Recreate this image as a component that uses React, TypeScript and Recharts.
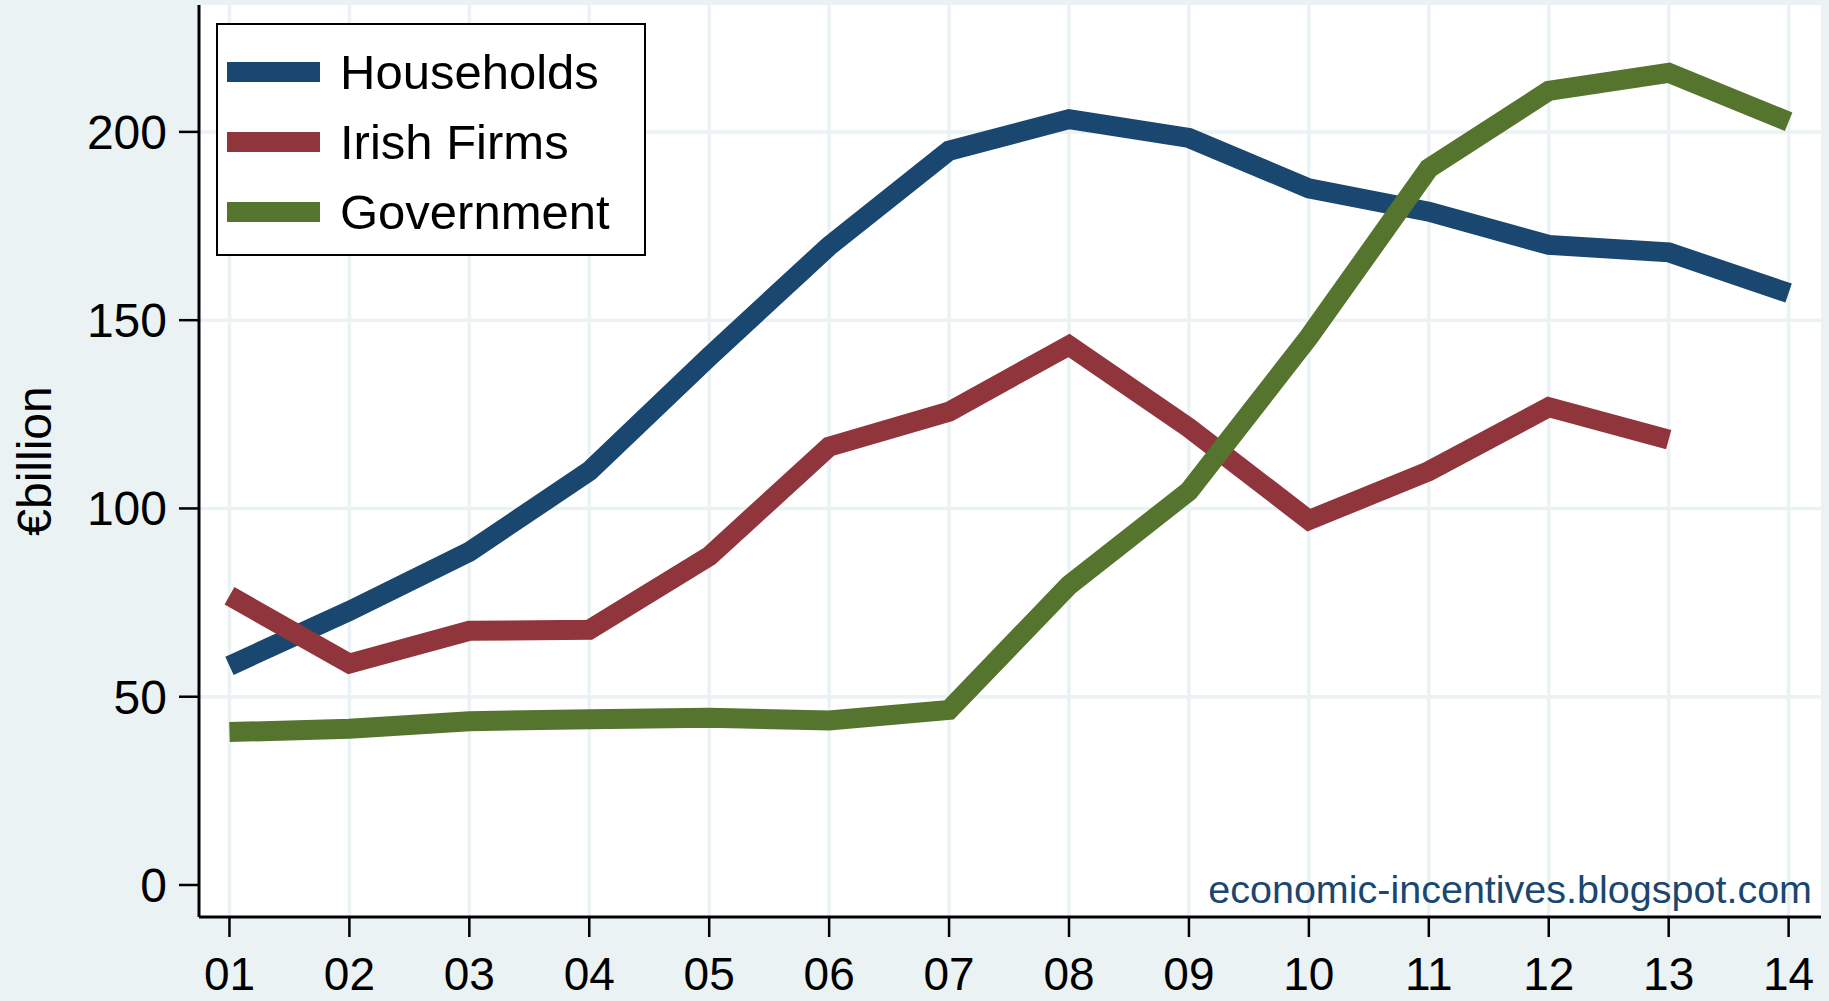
import { LineChart, Line, XAxis, YAxis, CartesianGrid, Legend } from 'recharts'

// years 2001-2014, € billion
const years = ['01', '02', '03', '04', '05', '06', '07', '08', '09', '10', '11', '12', '13', '14']
const households = [58.2, 72.8, 88.5, 109.9, 140.3, 169.7, 195.0, 203.4, 198.4, 185.0, 178.8, 170.0, 168.0, 157.2]
const irishFirms = [76.8, 58.8, 67.5, 67.8, 87.3, 116.4, 125.7, 143.3, 121.4, 96.9, 109.9, 126.9, 118.3, null]
const government = [40.6, 41.5, 43.5, 44.0, 44.4, 43.7, 46.5, 79.6, 104.6, 145.5, 190.3, 210.9, 215.7, 202.7]
const seriesNames = ['Households', 'Irish Firms', 'Government']
const yTicks = [0, 50, 100, 150, 200]

const data = years.map((year, i) => ({
  x: i + 1,
  year,
  households: households[i],
  irishFirms: irishFirms[i],
  government: government[i],
}))

const FONT = '"Liberation Sans", Arial, Helvetica, sans-serif'
const BG = '#eaf2f3'

function XTick({ x, y, payload }: any) {
  return (
    <text x={x} y={y + 53} textAnchor="middle" fontSize={46} fontFamily={FONT} fill="#000">
      {years[payload.value - 1]}
    </text>
  )
}

function YTick({ x, y, payload }: any) {
  return (
    <text x={x} y={y + 17} textAnchor="end" fontSize={48} fontFamily={FONT} fill="#000">
      {payload.value}
    </text>
  )
}

const yLabel = () => (
  <text
    x={51}
    y={461}
    transform="rotate(-90 51 461)"
    textAnchor="middle"
    fontSize={48}
    fontFamily={FONT}
    fill="#000"
  >
    €billion
  </text>
)

const watermark = () => (
  <text x={1812} y={903} textAnchor="end" fontSize={39.5} fontFamily={FONT} fill="#1a476f">
    economic-incentives.blogspot.com
  </text>
)

function LegendBox({ payload }: any) {
  // keep the series order, not the alphabetical one
  const items = seriesNames
    .map((name) => (payload || []).find((p: any) => p.value === name))
    .filter(Boolean)
  return (
    <div
      style={{
        width: 430,
        height: 233,
        boxSizing: 'border-box',
        border: '2.5px solid #000',
        background: '#fff',
        fontFamily: FONT,
        position: 'relative',
      }}
    >
      {items.map((item: any, i: number) => (
        <div
          key={item.value}
          style={{ position: 'absolute', left: 9, top: 12 + i * 70, height: 70, display: 'flex', alignItems: 'center' }}
        >
          <div style={{ width: 93, height: 20, background: item.color }} />
          <span style={{ marginLeft: 20, fontSize: 49, color: '#000', lineHeight: '70px' }}>{item.value}</span>
        </div>
      ))}
    </div>
  )
}

export default function App() {
  return (
    <div style={{ position: 'absolute', left: 0, top: 0, width: 1829, height: 1001, background: BG }}>
      <LineChart width={1829} height={1001} data={data} margin={{ top: 5, right: 8, bottom: 0, left: 0 }}>
        <CartesianGrid
          fill="#fff"
          stroke={BG}
          strokeWidth={3.5}
          horizontalValues={[50, 100, 150, 200]}
          verticalValues={[1, 2, 3, 4, 5, 6, 7, 8, 9, 10, 11, 12, 13, 14]}
        />
        <XAxis
          dataKey="x"
          type="number"
          domain={[0.746, 14.27]}
          ticks={[1, 2, 3, 4, 5, 6, 7, 8, 9, 10, 11, 12, 13, 14]}
          height={84}
          tickSize={20}
          tickMargin={0}
          axisLine={{ stroke: '#000', strokeWidth: 3 }}
          tickLine={{ stroke: '#000', strokeWidth: 2.5 }}
          tick={<XTick />}
          interval={0}
          allowDataOverflow
          label={watermark}
        />
        <YAxis
          type="number"
          domain={[-8.5, 233.7]}
          ticks={yTicks}
          width={199}
          tickSize={20}
          tickMargin={12}
          axisLine={{ stroke: '#000', strokeWidth: 3 }}
          tickLine={{ stroke: '#000', strokeWidth: 2.5 }}
          tick={<YTick />}
          interval={0}
          allowDataOverflow
          label={yLabel}
        />
        <Legend
          layout="horizontal"
          verticalAlign="middle"
          align="center"
          content={<LegendBox />}
          wrapperStyle={{ left: 216, top: 23, width: 430, height: 233 }}
        />
        <Line
          name="Households"
          dataKey="households"
          stroke="#1a476f"
          strokeWidth={20}
          strokeLinecap="butt"
          strokeLinejoin="miter"
          dot={false}
          activeDot={false}
          isAnimationActive={false}
        />
        <Line
          name="Irish Firms"
          dataKey="irishFirms"
          stroke="#90353b"
          strokeWidth={20}
          strokeLinecap="butt"
          strokeLinejoin="miter"
          dot={false}
          activeDot={false}
          isAnimationActive={false}
        />
        <Line
          name="Government"
          dataKey="government"
          stroke="#55752f"
          strokeWidth={20}
          strokeLinecap="butt"
          strokeLinejoin="miter"
          dot={false}
          activeDot={false}
          isAnimationActive={false}
        />
      </LineChart>
    </div>
  )
}
